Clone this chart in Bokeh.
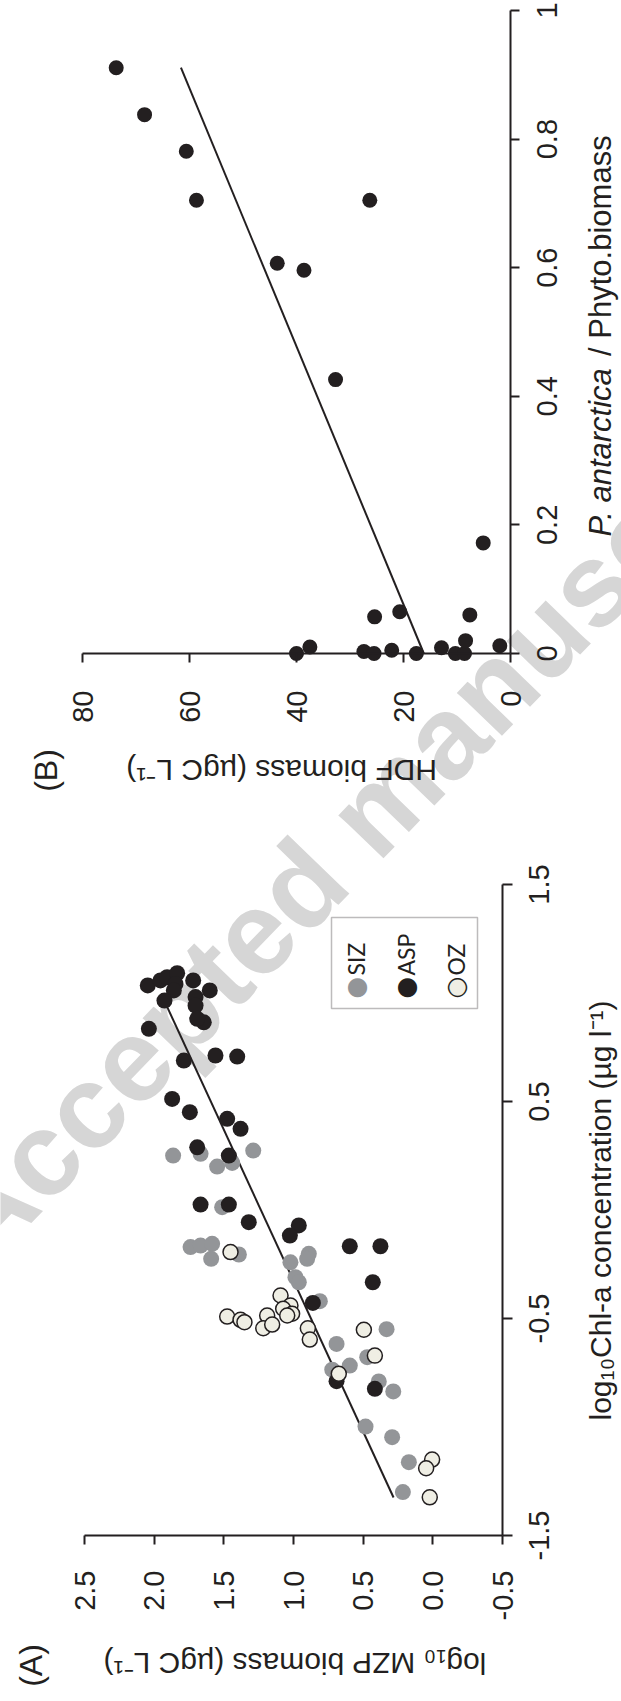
import math
from bokeh.plotting import figure
from bokeh.models import (Range1d, FixedTicker, PrintfTickFormatter, CustomJSTickFormatter,
                          Label, BoxAnnotation, ColumnDataSource, LinearAxis)
from bokeh.core.properties import value
from bokeh.embed import file_html
from bokeh.resources import INLINE

# ---------------- Panel A data: log10 Chl-a vs log10 MZP biomass ----------------
siz_chl = [0.251, 0.259, 0.274, 0.200, 0.217, 0.013, -0.171, -0.164, -0.156, -0.225,
           -0.205, -0.241, -0.202, -0.225, -0.310, -0.333, -0.420, -0.549, -0.617, -0.678,
           -0.717, -0.736, -0.790, -0.836, -0.998, -1.047, -1.162, -1.300]
siz_mzp = [1.864, 1.667, 1.289, 1.548, 1.440, 1.512, 1.739, 1.667, 1.584, 1.591,
           1.392, 1.022, 0.890, 0.902, 0.986, 0.962, 0.811, 0.332, 0.691, 0.471,
           0.596, 0.722, 0.388, 0.284, 0.483, 0.292, 0.172, 0.215]

asp_chl = [1.035, 1.058, 1.073, 1.091, 1.042, 1.012, 1.058, 1.012, 0.965, 0.981,
           0.942, 0.865, 0.881, 0.835, 0.689, 0.712, 0.707, 0.512, 0.451, 0.420,
           0.374, 0.289, 0.251, 0.025, 0.025, -0.056, -0.071, -0.118, -0.167, -0.167,
           -0.333, -0.428, -0.789, -0.824]
asp_mzp = [2.046, 1.955, 1.907, 1.835, 1.847, 1.859, 1.720, 1.601, 1.926, 1.703,
           1.703, 1.644, 1.691, 2.038, 1.787, 1.560, 1.404, 1.871, 1.744, 1.476,
           1.380, 1.691, 1.464, 1.667, 1.464, 1.321, 0.962, 1.026, 0.596, 0.376,
           0.431, 0.861, 0.691, 0.416]

oz_chl = [-0.194, -0.394, -0.440, -0.455, -0.478, -0.486, -0.486, -0.491, -0.506, -0.517,
          -0.545, -0.528, -0.545, -0.597, -0.552, -0.671, -0.755, -1.150, -1.190, -1.324]
oz_mzp = [1.452, 1.093, 1.022, 1.074, 1.010, 1.045, 1.189, 1.476, 1.380, 1.352,
          1.217, 1.153, 0.897, 0.883, 0.495, 0.416, 0.675, 0.005, 0.048, 0.022]

fitA_chl = [-1.325, 0.942]
fitA_mzp = [0.282, 1.911]

mzp_ticks = [-0.5, 0.0, 0.5, 1.0, 1.5, 2.0, 2.5]
chl_ticks = [-1.5, -0.5, 0.5, 1.5]
chl_tick_labels = ["-1.5", "-0.5", "0.5", "1.5"]
legend_labels = ["SIZ", "ASP", "OZ"]

# ---------------- Panel B data: P. antarctica / Phyto biomass vs HDF biomass ----------------
pant_ratio = [0.911, 0.838, 0.781, 0.705, 0.705, 0.607, 0.596, 0.426, 0.172, 0.057,
              0.065, 0.060, 0.000, 0.010, 0.003, 0.000, 0.005, 0.000, 0.009, 0.000,
              0.000, 0.020, 0.012]
hdf_biomass = [73.7, 68.4, 60.6, 58.7, 26.3, 43.6, 38.6, 32.7, 5.1, 25.4,
               20.7, 7.6, 40.0, 37.5, 27.4, 25.5, 22.2, 17.6, 12.9, 10.3,
               8.6, 8.4, 2.0]
fitB_ratio = [0.0, 0.911]
fitB_hdf = [16.2, 61.6]

hdf_ticks = [0, 20, 40, 60, 80]
ratio_ticks = [0, 0.2, 0.4, 0.6, 0.8, 1.0]
ratio_tick_labels = ["0", "0.2", "0.4", "0.6", "0.8", "1"]

# ---------------- styling / page geometry ----------------
INK = "#231f20"
GRAY = "#939598"
CREAM = "#efeee4"
FONT = "Liberation Sans"
WATERMARK = "#d6d6d6"
TICK_FS = "29px"

W, H = 621, 1701
# where each panel's axes sit on the (rotated) page, in page pixels
A_L, A_R, A_T, A_B = 84, 502, 884, 1535     # MZP 2.5 -> -0.5 ; Chl 1.5 (top) -> -1.5 (bottom)
B_L, B_R, B_T, B_AX = 82, 510, 10, 653       # HDF 80 -> 0 ; ratio 1 (top) -> 0 (bottom)

kxA = (A_R - A_L) / (mzp_ticks[-1] - mzp_ticks[0])
kyA = (A_B - A_T) / (chl_ticks[-1] - chl_ticks[0])
kxB = (B_R - B_L) / (hdf_ticks[-1] - hdf_ticks[0])
kyB = (B_AX - B_T) / (ratio_ticks[-1] - ratio_ticks[0])

xA = Range1d(start=mzp_ticks[-1] + A_L / kxA, end=mzp_ticks[-1] - (W - A_L) / kxA)
yA = Range1d(start=chl_ticks[0] - (H - A_B) / kyA, end=chl_ticks[0] + A_B / kyA)
xB = Range1d(start=hdf_ticks[-1] + B_L / kxB, end=hdf_ticks[-1] - (W - B_L) / kxB)
yB = Range1d(start=ratio_ticks[0] - (H - B_AX) / kyB, end=ratio_ticks[0] + B_AX / kyB)


def a_xy(X, Y):
    """page pixel -> panel A data (mzp, chl)"""
    return mzp_ticks[-1] - (X - A_L) / kxA, chl_ticks[0] + (A_B - Y) / kyA


def b_xy(X, Y):
    """page pixel -> panel B data (hdf, ratio)"""
    return hdf_ticks[-1] - (X - B_L) / kxB, ratio_ticks[0] + (B_AX - Y) / kyB


p = figure(frame_width=W, frame_height=H, x_range=xA, y_range=yA,
           x_axis_location=None, y_axis_location=None,
           output_backend="svg", toolbar_location=None, min_border=0)
p.extra_x_ranges = {"hdf": xB}
p.extra_y_ranges = {"ratio": yB}
p.grid.visible = False
p.outline_line_color = None
p.background_fill_color = "white"
p.border_fill_color = "white"


def style_axis(ax, ticks, fmt, tick_out, standoff):
    ax.ticker = FixedTicker(ticks=ticks)
    ax.formatter = fmt
    ax.major_tick_out = tick_out
    ax.major_tick_in = 0
    ax.minor_tick_out = 0
    ax.minor_tick_in = 0
    ax.axis_line_width = 2
    ax.axis_line_color = INK
    ax.major_tick_line_width = 2
    ax.major_tick_line_color = INK
    ax.major_label_text_font = FONT
    ax.major_label_text_font_size = TICK_FS
    ax.major_label_text_color = INK
    ax.major_label_orientation = math.pi / 2
    ax.major_label_standoff = standoff


def add_text(xy, text, size, angle, align="center", baseline="middle", color=INK,
             font=FONT, style="normal", level="annotation", panel="A"):
    kw = {}
    if panel == "B":
        kw = dict(x_range_name="hdf", y_range_name="ratio")
    lab = Label(x=xy[0], y=xy[1], text=text, text_font=font, text_font_size=size,
                text_font_style=style, text_color=color, angle=angle,
                text_align=align, text_baseline=baseline, level=level, **kw)
    p.add_layout(lab)
    return lab


# watermark behind everything
add_text(a_xy(-44, 1241), "Accepted manuscript", "118px", math.radians(46),
         align="left", baseline="alphabetic", color=WATERMARK, style="bold", level="underlay")

# ---------------- axes ----------------
EMPTY = CustomJSTickFormatter(code="return '';")

axA_x = LinearAxis(fixed_location=chl_ticks[0], bounds=(mzp_ticks[0], mzp_ticks[-1]))
style_axis(axA_x, mzp_ticks, PrintfTickFormatter(format="%.1f"), 9, 26)
p.add_layout(axA_x, "below")

axA_y = LinearAxis(fixed_location=mzp_ticks[0], bounds=(chl_ticks[0], chl_ticks[-1]))
style_axis(axA_y, chl_ticks, EMPTY, 10, 0)
p.add_layout(axA_y, "right")

axB_x = LinearAxis(x_range_name="hdf", y_range_name="ratio", fixed_location=ratio_ticks[0],
                   bounds=(hdf_ticks[0], hdf_ticks[-1]))
style_axis(axB_x, hdf_ticks, PrintfTickFormatter(format="%d"), 9, 28)
p.add_layout(axB_x, "below")

axB_y = LinearAxis(x_range_name="hdf", y_range_name="ratio", fixed_location=hdf_ticks[0],
                   bounds=(ratio_ticks[0], ratio_ticks[-1]))
style_axis(axB_y, ratio_ticks, EMPTY, 9, 0)
p.add_layout(axB_y, "right")

# tick labels of the right-hand axes, centred on their ticks and reading upwards
srcA_tl = ColumnDataSource(dict(x=[mzp_ticks[0]] * len(chl_ticks), y=chl_ticks, t=chl_tick_labels))
p.text(x="x", y="y", text="t", source=srcA_tl, angle=math.pi / 2, x_offset=36,
       text_align="center", text_baseline="middle", text_font=value(FONT),
       text_font_size=value(TICK_FS), text_color=INK)
srcB_tl = ColumnDataSource(dict(x=[hdf_ticks[0]] * len(ratio_ticks), y=ratio_ticks, t=ratio_tick_labels))
p.text(x="x", y="y", text="t", source=srcB_tl, angle=math.pi / 2, x_offset=36,
       text_align="center", text_baseline="middle", text_font=value(FONT),
       text_font_size=value(TICK_FS), text_color=INK,
       x_range_name="hdf", y_range_name="ratio")

# ---------------- panel B marks ----------------
srcB = ColumnDataSource(dict(hdf=hdf_biomass, ratio=pant_ratio))
p.line(fitB_hdf, fitB_ratio, line_width=2, line_color=INK, x_range_name="hdf", y_range_name="ratio")
p.scatter(x="hdf", y="ratio", source=srcB, size=15, fill_color=INK, line_color=None,
          x_range_name="hdf", y_range_name="ratio")

# ---------------- panel A marks ----------------
srcS = ColumnDataSource(dict(mzp=siz_mzp, chl=siz_chl))
srcP = ColumnDataSource(dict(mzp=asp_mzp, chl=asp_chl))
srcO = ColumnDataSource(dict(mzp=oz_mzp, chl=oz_chl))
p.line(fitA_mzp, fitA_chl, line_width=2, line_color=INK)
p.scatter(x="mzp", y="chl", source=srcS, size=16, fill_color=GRAY, line_color=None)
p.scatter(x="mzp", y="chl", source=srcP, size=16, fill_color=INK, line_color=None)
p.scatter(x="mzp", y="chl", source=srcO, size=15, fill_color=CREAM, line_color=INK, line_width=1.5)

# ---------------- texts ----------------
add_text(b_xy(277, 770), "HDF biomass (µgC  L⁻¹)", "30px", math.pi, panel="B")
add_text(b_xy(45, 770), "(B)", "32px", math.pi / 2, panel="B")
add_text(b_xy(600, 536), "P. antarctica", "31px", math.pi / 2, align="left",
         style="italic", panel="B")
add_text(b_xy(600, 536 - 172), "\u00a0/ Phyto.biomass", "31px", math.pi / 2, align="left", panel="B")

add_text(a_xy(290, 1663), "log₁₀ MZP biomass (µgC  L⁻¹)", "30px", math.pi)
add_text(a_xy(30, 1665), "(A)", "32px", math.pi / 2)
add_text(a_xy(600, 1210), "log₁₀Chl-a concentration (µg l⁻¹)", "30px", math.pi / 2)

# legend (rotated like the page)
l_left, l_top = a_xy(331, 917)
l_right, l_bottom = a_xy(477, 1008)
p.add_layout(BoxAnnotation(left=l_left, right=l_right, top=l_top, bottom=l_bottom,
                           fill_color="white", fill_alpha=1.0, line_color=INK, line_width=1.5))
leg_x = [355, 405, 455]
leg_fill = [GRAY, INK, CREAM]
for X, name, col in zip(leg_x, legend_labels, leg_fill):
    add_text(a_xy(X, 987), "●", "25px", math.pi / 2, color=col, font="DejaVu Sans")
    if name == "OZ":
        add_text(a_xy(X, 987), "○", "25px", math.pi / 2, color=INK, font="DejaVu Sans")
    add_text(a_xy(X, 975), name, "23px", math.pi / 2, align="left", font="Lato")

open("out.html", "w").write(file_html(p, INLINE, "MZP and HDF biomass"))
